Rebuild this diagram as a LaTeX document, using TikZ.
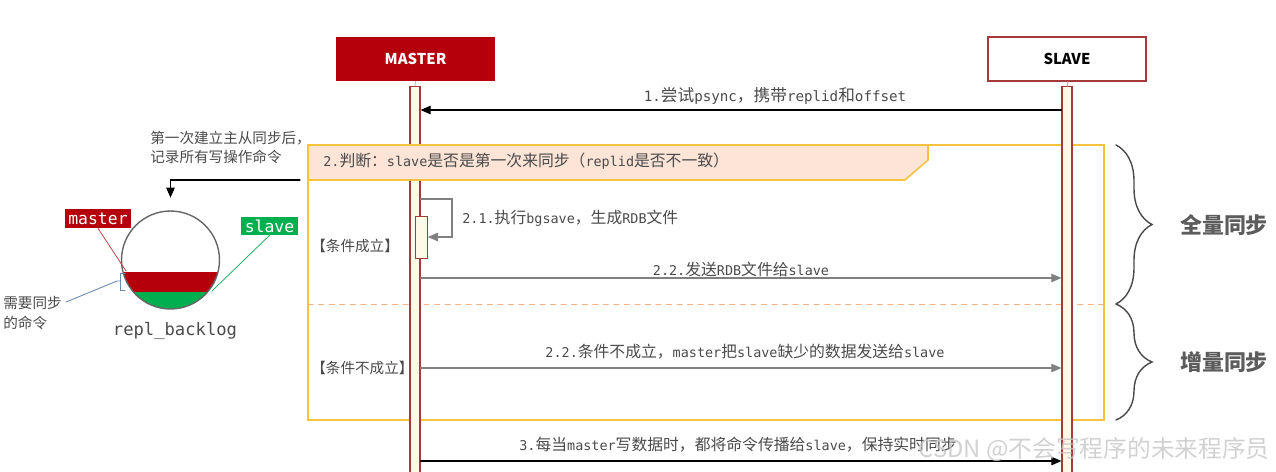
\documentclass[tikz,border=0pt]{standalone}
\usepackage{fontspec}
\setmainfont{Noto Sans CJK SC}
\setmonofont[Scale=0.85]{DejaVu Sans Mono}
\newfontfamily\cjk{Noto Sans CJK SC}
\usepackage{tikz}
\usetikzlibrary{arrows.meta,decorations.pathreplacing}
\usepackage{xcolor}
\definecolor{mred}{HTML}{B5000B}
\definecolor{lred}{HTML}{A63A3A}
\definecolor{lfill}{HTML}{FFF9E8}
\definecolor{ylw}{HTML}{F5C340}
\definecolor{tabfill}{HTML}{FCE4D6}
\definecolor{dsh}{HTML}{F4B183}
\definecolor{txtgray}{HTML}{4A4A4A}
\definecolor{sgreen}{HTML}{00B050}
\definecolor{bgray}{HTML}{6A88B0}
\newcommand\zh[1]{{\cjk #1}}

\begin{document}
\begin{tikzpicture}[x=0.02cm,y=-0.02cm,>={Triangle[length=2mm,width=1.7mm]},line cap=round,
  lbl/.style={font=\ttfamily\fontsize{9}{11}\selectfont,text=txtgray,inner sep=0pt},
  note/.style={font=\cjk\fontsize{8.3}{11.3}\selectfont,text=txtgray,inner sep=0pt,align=left},
  lifeline/.style={draw=lred,fill=lfill,line width=0.7pt,minimum width=0.2cm,minimum height=8cm,inner sep=0pt},
  tag/.style={text=white,font=\ttfamily\fontsize{11}{12}\selectfont,minimum width=1.32cm,minimum height=0.38cm,inner sep=0pt},
  msg/.style={->,line width=0.6pt}]
\useasboundingbox (0,0) rectangle (1276,471);

% participants
\node[fill=mred,text=white,font=\bfseries\fontsize{8.5}{10}\selectfont,minimum width=3.18cm,minimum height=0.88cm] (mbox) at (415.5,59) {MASTER};
\node[draw=lred,line width=0.8pt,fill=white,font=\bfseries\fontsize{8.5}{10}\selectfont,minimum width=3.16cm,minimum height=0.88cm] (sbox) at (1067,59) {SLAVE};

% frame of step 2
\draw[ylw,line width=0.9pt] (308,145) rectangle (1104,420);
\draw[dsh,dashed,line width=0.5pt] (308,304) -- (1104,304);

% lifelines
\node[lifeline,anchor=north] (mline) at (415,86) {};
\node[lifeline,anchor=north] (sline) at (1067,86) {};
\draw[lred!50,line width=0.4pt] (mbox.south) -- (mline.north);
\draw[lred!50,line width=0.4pt] (sbox.south) -- (sline.north);

% tab
\filldraw[fill=tabfill,draw=ylw,line width=0.9pt] (308,145) -- (928,145) -- (928,160) -- (905,180) -- (308,180) -- cycle;
\node[lbl,anchor=west] (judge) at (323,161) {2.\zh{判断：}slave\zh{是否是第一次来同步（}replid\zh{是否不一致）}};

% step 1
\draw[msg] (sline.west |- 0,110) -- (mline.east |- 0,110);
\node[lbl,font=\ttfamily\fontsize{9.5}{11}\selectfont] (l1) at (775,96) {1.\zh{尝试}psync\zh{，携带}replid\zh{和}offset};

% condition true
\node[note,anchor=west] (cond1) at (311,246) {【条件成立】};
\node[draw=lred,fill=lfill,line width=0.5pt,anchor=north west,minimum width=0.24cm,minimum height=0.84cm,inner sep=0pt] (act) at (415,216) {};
\draw[msg,gray] (mline.east |- 0,199) -- (452,199) -- (452,237) -- (act.east |- 0,237);
\node[lbl,anchor=west] (l21) at (462,218) {2.1.\zh{执行}bgsave\zh{，生成}RDB\zh{文件}};
\draw[msg,gray] (mline.east |- 0,278) -- (sline.west |- 0,278);
\node[lbl] (l22) at (741,269) {2.2.\zh{发送}RDB\zh{文件给}slave};

% condition false
\node[note,anchor=west] (cond2) at (311,368) {【条件不成立】};
\draw[msg,gray] (mline.east |- 0,368) -- (sline.west |- 0,368);
\node[lbl] (l22b) at (745,352) {2.2.\zh{条件不成立，}master\zh{把}slave\zh{缺少的数据发送给}slave};

% step 3
\draw[msg] (mline.east |- 0,461) -- (sline.west |- 0,461);
\node[lbl] (l3) at (738,445) {3.\zh{每当}master\zh{写数据时，都将命令传播给}slave\zh{，保持实时同步}};

% braces
\draw[decorate,decoration={brace,amplitude=0.72cm},txtgray,line width=0.8pt] (1116,145) -- (1116,304);
\draw[decorate,decoration={brace,amplitude=0.72cm},txtgray,line width=0.8pt] (1116,304) -- (1116,420);
\node[font=\cjk\bfseries\fontsize{12.5}{14}\selectfont,text=txtgray!90] (full) at (1224,225) {全量同步};
\node[font=\cjk\bfseries\fontsize{12.5}{14}\selectfont,text=txtgray!90] (incr) at (1224,362) {增量同步};

% repl_backlog
\node[note,anchor=west] (rec) at (150,147.5) {第一次建立主从同步后，\\记录所有写操作命令};
\node[circle,minimum size=1.96cm,inner sep=0pt] (backlog) at (170.5,260) {};
\coordinate (tabout) at (300,180);
\draw[msg,black] (tabout) -| ([yshift=0.26cm]backlog.north);
\begin{scope}
\clip (backlog.center) circle (0.98cm);
\fill[mred] (100,272) rectangle (240,292);
\fill[sgreen] (100,292) rectangle (240,320);
\end{scope}
\draw[gray!80!black,line width=0.8pt] (backlog.center) circle (0.98cm);
\node[font=\ttfamily\fontsize{11.5}{13}\selectfont,text=txtgray,inner sep=0pt] (rb) at (175,331) {repl\_backlog};

\node[tag,fill=mred] (mtag) at (98,218.5) {master};
\node[tag,fill=sgreen,minimum width=1.14cm,minimum height=0.36cm] (stag) at (269.5,226) {slave};
\coordinate (mpt) at (126,271);
\coordinate (spt) at (212,291);
\draw[mred!80,line width=0.4pt] (mtag.south) -- (mpt);
\draw[sgreen,line width=0.4pt] (stag.south) -- (spt);

\draw[bgray,line width=0.5pt] (125,273) -- (120,273) -- (120,290) -- (125,290);
\coordinate (brk) at (117,281);
\coordinate (needpt) at (66,302);
\draw[bgray,line width=0.5pt] (120,281) -- (brk) -- (needpt);
\node[note,anchor=west] (need) at (3,313) {需要同步\\的命令};

% watermark
\node[font=\cjk\fontsize{13.5}{15}\selectfont,text=gray!45,opacity=0.8,anchor=east,inner sep=0pt] (wm) at (1270,450) {CSDN @不会写程序的未来程序员};
\end{tikzpicture}
\end{document}
